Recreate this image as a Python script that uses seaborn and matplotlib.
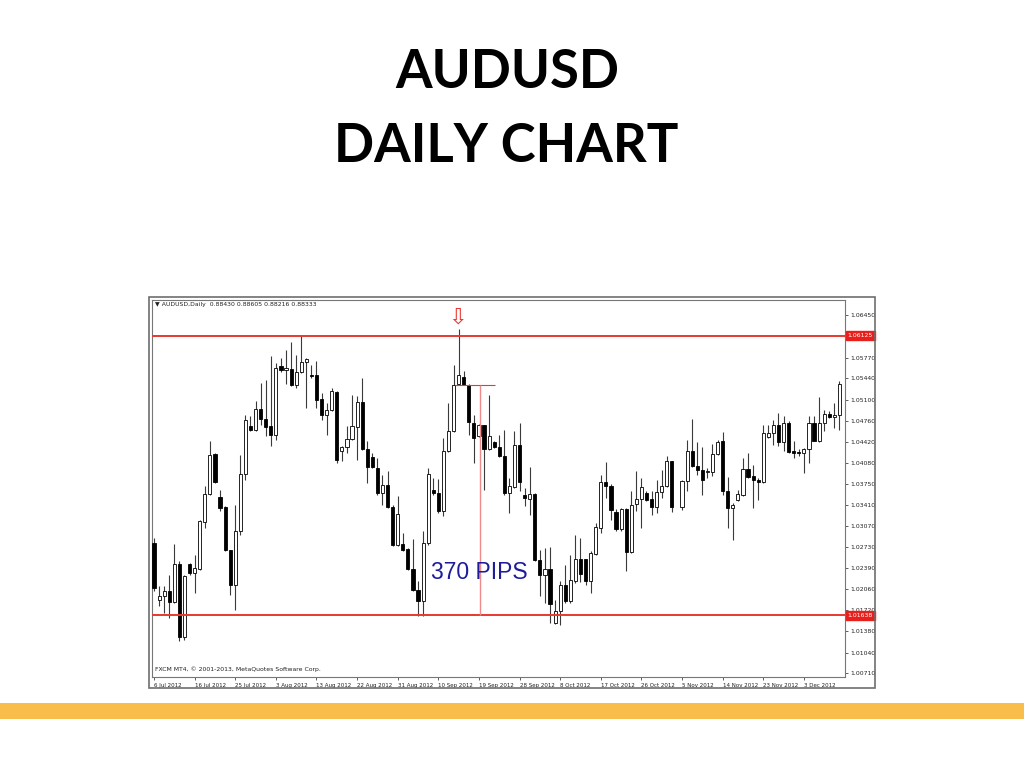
import numpy as np
import pandas as pd
import matplotlib
matplotlib.use("Agg")
import matplotlib.pyplot as plt
import matplotlib.transforms as mtransforms
from matplotlib.patches import Rectangle
import seaborn as sns

sns.set_theme(style="white")
plt.rcParams['font.family'] = ['DejaVu Sans']

# AUDUSD daily candles, 6 Jul 2012 - 11 Dec 2012, None = empty slot
opens = [1.02798, 1.01889, 1.01943, 1.02033, 1.01852, 1.02461, 1.01285, 1.02467, 1.02317, 1.02386,
         1.03135, 1.03584, 1.04231, 1.03536, 1.03371, 1.02691, 1.02119, 1.02985, 1.03905, 1.04670,
         1.04617, 1.04948, 1.04793, 1.04670, 1.04536, 1.05643, 1.05579, 1.05595, 1.05328, 1.05542,
         1.05702, 1.05499, 1.05499, 1.05109, 1.04847, 1.04927, 1.05221, 1.04269, 1.04333, 1.04472,
         1.04659, 1.05060, 1.04312, 1.04173, 1.04002, 1.03600, 1.03723, 1.03376, 1.02761, 1.02782,
         1.02707, 1.02386, 1.02049, 1.01873, 1.02798, 1.03654, 1.03600, 1.03306, 1.04269, 1.04590,
         1.05349, 1.05461, 1.05339, 1.04723, 1.04510, 1.04697, 1.04312, 1.04413, 1.04333, 1.04189,
         1.03600, 1.03697, 1.04365, 1.03563, 1.03510, 1.03590, 1.02520, 1.02279, 1.02386, 1.01515,
         1.01702, 1.02119, 1.01863, 1.02183, 1.02547, 1.02547, 1.02194, 1.02622, 1.03039, 1.03772,
         1.03718, 1.03296, 1.03028, 1.03344, 1.02654, 1.03424, 1.03504, 1.03600, 1.03504, 1.03371,
         1.03611, 1.03707, 1.04109, None, 1.03371, 1.03788, 1.04280, 1.04028, 1.03975, 1.03932,
         1.03932, 1.04226, 1.04429, 1.03627, 1.03360, 1.03493, 1.03574, 1.03991, 1.03868, 1.03809,
         1.03777, 1.04494, 1.04563, 1.04697, 1.04413, 1.04723, 1.04269, 1.04258, 1.04242, 1.04306,
         1.04723, 1.04440, 1.04723, 1.04868, 1.04814, 1.04847]
highs = [1.02878, 1.02103, 1.02103, 1.02279, 1.02782, 1.02504, 1.02290, 1.02477, 1.02600, 1.03173,
         1.03718, 1.04429, 1.04242, 1.03643, 1.03387, 1.02691, 1.03413, 1.04215, 1.04857, 1.04830,
         1.05071, 1.05365, 1.05419, 1.05793, 1.05686, 1.05766, 1.05900, 1.06018, 1.05820, 1.06114,
         1.05766, 1.05659, 1.05713, 1.05205, 1.05044, 1.05285, 1.05232, 1.04349, 1.04670, 1.05178,
         1.05151, 1.05445, 1.04429, 1.04242, 1.04162, 1.03895, 1.03959, 1.03413, 1.03547, 1.02959,
         1.02718, 1.02868, 1.02183, 1.02985, 1.04002, 1.03841, 1.03830, 1.04483, 1.05044, 1.05659,
         1.06237, 1.05563, 1.05349, 1.04857, 1.04707, 1.04697, 1.05178, 1.04429, 1.04536, 1.04617,
         1.03841, 1.04590, 1.04723, 1.03681, 1.04018, 1.03600, 1.02691, 1.02718, 1.02729, 1.01889,
         1.02183, 1.02451, 1.02611, 1.02921, 1.02878, 1.02547, 1.02665, 1.03119, 1.03884, 1.04098,
         1.03745, 1.03349, 1.03360, 1.03360, 1.03627, 1.03948, 1.03841, 1.03627, 1.03627, 1.03814,
         1.03975, 1.04189, 1.04119, None, 1.03814, 1.04456, 1.04793, 1.04419, 1.04333, 1.04002,
         1.04387, 1.04456, 1.04579, 1.03857, 1.03440, 1.03654, 1.04162, 1.04242, 1.04055, 1.03841,
         1.04697, 1.04697, 1.04777, 1.04884, 1.04830, 1.04750, 1.04429, 1.04312, 1.04322, 1.04830,
         1.04830, 1.05135, 1.04937, 1.04911, 1.05044, 1.05392]
lows = [1.02023, 1.01782, 1.01675, 1.01595, 1.01836, 1.01221, 1.01247, 1.02290, 1.01996, 1.02370,
        1.03039, 1.03574, 1.03761, 1.03306, 1.02665, 1.01969, 1.01718, 1.02921, 1.03814, 1.04590,
        1.04590, 1.04697, 1.04510, 1.04349, 1.04456, 1.05542, 1.05349, 1.05312, 1.05285, 1.05526,
        1.04964, 1.05445, 1.04964, 1.04777, 1.04526, 1.04911, 1.04082, 1.04109, 1.04242, 1.04456,
        1.04125, 1.04296, 1.03761, 1.04002, 1.03574, 1.03413, 1.03360, 1.02745, 1.02745, 1.02665,
        1.02370, 1.02023, 1.01622, 1.01622, 1.02772, 1.03574, 1.03280, 1.03226, 1.04258, 1.04579,
        1.05339, 1.05328, 1.04536, 1.04082, 1.04494, 1.03654, 1.04296, 1.04322, 1.04173, 1.03574,
        1.03280, 1.03681, 1.03627, 1.03387, 1.03253, 1.02504, 1.01943, 1.01836, 1.01515, 1.01499,
        1.01488, 1.01836, 1.01836, 1.02156, 1.02167, 1.02130, 1.01996, 1.02611, 1.02959, 1.03520,
        1.03173, 1.02985, 1.02985, 1.02344, 1.02638, 1.03306, 1.03039, 1.03467, 1.03242, 1.03280,
        1.03520, 1.03697, 1.03296, None, 1.03333, 1.03638, 1.04012, 1.03884, 1.03574, 1.03841,
        1.03868, 1.04215, 1.03574, 1.03039, 1.02852, 1.03467, 1.03547, 1.03841, 1.03360, 1.03493,
        1.03761, 1.04483, 1.04376, 1.04349, 1.04269, 1.04242, 1.04162, 1.04189, 1.03921, 1.04082,
        1.04429, 1.04419, 1.04590, 1.04804, 1.04643, 1.04617]
closes = [1.02076, 1.01943, 1.02033, 1.01852, 1.02461, 1.01285, 1.02263, 1.02317, 1.02397, 1.03146,
          1.03590, 1.04215, 1.03777, 1.03360, 1.02691, 1.02119, 1.02985, 1.03905, 1.04777, 1.04617,
          1.04948, 1.04793, 1.04659, 1.04536, 1.05606, 1.05568, 1.05606, 1.05328, 1.05542, 1.05697,
          1.05756, 1.05483, 1.05098, 1.04847, 1.04927, 1.05232, 1.04125, 1.04338, 1.04472, 1.04670,
          1.05060, 1.04312, 1.04018, 1.04012, 1.03600, 1.03723, 1.03371, 1.02761, 1.03263, 1.02691,
          1.02386, 1.02049, 1.01873, 1.02798, 1.03905, 1.03600, 1.03306, 1.04269, 1.04590, 1.05339,
          1.05499, 1.05339, 1.04734, 1.04483, 1.04697, 1.04312, 1.04520, 1.04333, 1.04189, 1.03600,
          1.03707, 1.04365, 1.03777, 1.03520, 1.03590, 1.02520, 1.02290, 1.02386, 1.01820, 1.01702,
          1.02130, 1.01873, 1.02210, 1.02547, 1.02301, 1.02194, 1.02638, 1.03050, 1.03772, 1.03718,
          1.03322, 1.03028, 1.03344, 1.02654, 1.03413, 1.03510, 1.03697, 1.03493, 1.03371, 1.03611,
          1.03707, 1.04109, 1.03371, None, 1.03798, 1.04280, 1.04028, 1.03975, 1.03814, 1.03948,
          1.04226, 1.04419, 1.03627, 1.03360, 1.03403, 1.03584, 1.03991, 1.03852, 1.03804, 1.03777,
          1.04563, 1.04563, 1.04697, 1.04419, 1.04723, 1.04258, 1.04242, 1.04242, 1.04312, 1.04723,
          1.04440, 1.04723, 1.04868, 1.04814, 1.04857, 1.05349]

date_labels = ['6 Jul 2012', '16 Jul 2012', '25 Jul 2012', '3 Aug 2012', '13 Aug 2012', '22 Aug 2012',
               '31 Aug 2012', '10 Sep 2012', '19 Sep 2012', '28 Sep 2012', '8 Oct 2012', '17 Oct 2012',
               '26 Oct 2012', '5 Nov 2012', '14 Nov 2012', '23 Nov 2012', '3 Dec 2012']
price_ticks = [1.06450, 1.05770, 1.05440, 1.05100, 1.04760, 1.04420, 1.04080, 1.03750, 1.03410,
               1.03070, 1.02730, 1.02390, 1.02060, 1.01720, 1.01380, 1.01040, 1.00710]
resistance = 1.06125
support = 1.01638
move_top = 1.05328
pips_text = '370 PIPS'

df = pd.DataFrame({'open': opens, 'high': highs, 'low': lows, 'close': closes}, dtype=float)
df['slot'] = np.arange(len(df))
df = df.dropna()
bull = df[df['close'] >= df['open']]
bear = df[df['close'] < df['open']]

fig = plt.figure(figsize=(10.24, 7.68), dpi=100)
fig.patch.set_facecolor('white')

# title
fig.text(0.495, 1 - 72 / 768, 'AUDUSD', ha='center', va='center', fontsize=38,
         fontweight='bold', family='Lato', color='black')
fig.text(0.494, 1 - 147 / 768, 'DAILY CHART', ha='center', va='center', fontsize=38,
         fontweight='bold', family='Lato', color='black')

# orange band at the bottom
fig.patches.append(Rectangle((0, 1 - 719 / 768), 1, 16 / 768, transform=fig.transFigure,
                             facecolor='#F9BD4C', edgecolor='none', zorder=0))
# terminal window frame
fig.patches.append(Rectangle((149 / 1024, 1 - 688 / 768), 726 / 1024, 391 / 768,
                             transform=fig.transFigure, facecolor='none',
                             edgecolor='#6e6e6e', lw=1.2, zorder=5))

ax = fig.add_axes([152 / 1024, 1 - 677 / 768, 693 / 1024, 377 / 768])
ax.set_facecolor('white')

# wicks then bodies
ax.vlines(df['slot'], df['low'], df['high'], color='#3a3a3a', lw=0.8, zorder=2)
ax.bar(bull['slot'], bull['close'] - bull['open'], bottom=bull['open'], width=0.62,
       color='white', edgecolor='black', lw=0.6, zorder=3)
ax.bar(bear['slot'], bear['open'] - bear['close'], bottom=bear['close'], width=0.62,
       color='black', edgecolor='black', lw=0.6, zorder=3)

# support / resistance
ax.axhline(resistance, color='#e8382f', lw=1.4, zorder=4)
ax.axhline(support, color='#e8382f', lw=1.4, zorder=4)

# measured move
peak = df.loc[df['high'].idxmax(), 'slot']
ax.hlines(move_top, peak - 0.7, peak + 7.1, color='#e8382f', lw=0.8, zorder=4)
ax.vlines(peak + 4.2, support, move_top, color='#f08a8a', lw=1.0, zorder=4)
ax.text(peak - 5.5, 1.0232, pips_text, fontsize=16.5, family='Liberation Sans',
        color='#1c1c9c', ha='left', va='center', zorder=5)
ax.text(peak - 0.2, 1.0641, '\u21e9', fontsize=16, color='#e8382f', ha='center',
        va='center', zorder=5)

ax.set_xlim(-0.4, 136.1)
ax.set_ylim(1.00648, 1.06697)

# axes like the terminal
ax.yaxis.tick_right()
ax.set_yticks(price_ticks)
ax.set_yticklabels([f'{p:.5f}' for p in price_ticks])
ax.set_xticks(np.arange(0, 8 * len(date_labels), 8))
ax.set_xticklabels(date_labels, ha='left')
ax.tick_params(axis='both', which='both', direction='out', length=2.5, width=0.6,
               color='#444444', labelsize=4.4, labelcolor='#222222', pad=1.5,
               bottom=True, right=True, left=False)
ax.tick_params(axis='x', labelsize=4.0)
for s in ax.spines.values():
    s.set_color('#777777')
    s.set_linewidth(0.8)

# red price labels
trans = mtransforms.blended_transform_factory(ax.transAxes, ax.transData)
for lvl in (resistance, support):
    ax.text(1.004, lvl, f'{lvl:.5f}', transform=trans, fontsize=4.4, color='white',
            ha='left', va='center', zorder=6, clip_on=False,
            bbox=dict(boxstyle='square,pad=0.35', facecolor='#e8201c', edgecolor='#e8201c'))

ax.text(0.004, 0.995, '\u25bc AUDUSD,Daily  0.88430 0.88605 0.88216 0.88333', transform=ax.transAxes,
        fontsize=4.4, color='#222222', ha='left', va='top')
ax.text(0.004, 0.012, 'FXCM MT4, \u00a9 2001-2013, MetaQuotes Software Corp.', transform=ax.transAxes,
        fontsize=4.4, color='#222222', ha='left', va='bottom')

fig.savefig('out.png', dpi=100)
